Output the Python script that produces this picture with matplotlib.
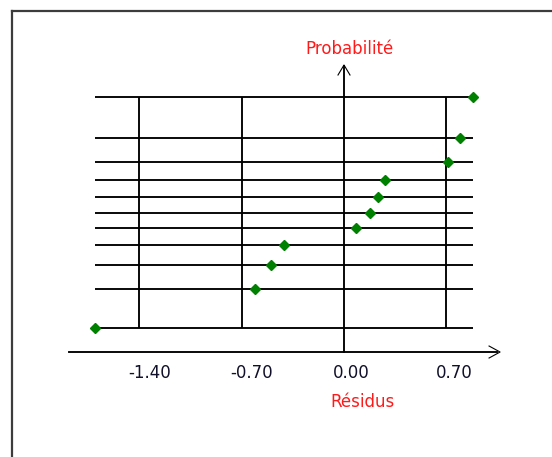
import matplotlib
matplotlib.use("Agg")
import matplotlib.pyplot as plt
from matplotlib.lines import Line2D

# ---- data ----
residuals = [-1.70, -0.61, -0.50, -0.41, 0.08, 0.18, 0.23, 0.28, 0.71, 0.79, 0.88]
normal_scores = [-1.69, -1.12, -0.76, -0.46, -0.22, 0.00, 0.24, 0.49, 0.76, 1.11, 1.71]
x_ticks = [-1.40, -0.70, 0.00, 0.70]
x_tick_labels = ["-1.40", "-0.70", "0.00", "0.70"]
x_title = "Résidus"
y_title = "Probabilité"

W, H, DPI = 552, 457, 100
fig = plt.figure(figsize=(W / DPI, H / DPI), dpi=DPI)
fig.patch.set_facecolor("white")
ax = fig.add_axes([0, 0, 1, 1])
ax.axis("off")

# pixel <-> data mapping of the original picture
X0, SX = 344.0, 146.4     # x pixel of 0, px per unit
Y0, SY = 213.3, 68.0      # y pixel of score 0, px per unit
ax.set_xlim((0 - X0) / SX, (W - X0) / SX)
ax.set_ylim((Y0 - H) / SY, (Y0 - 0) / SY)

def px(v):  # pixel lengths -> data units (x)
    return v / SX

def py(v):  # pixel lengths -> data units (y)
    return v / SY

lw = 1.35
ymin, ymax = min(normal_scores), max(normal_scores)
xmin, xmax = min(residuals), max(residuals)

# horizontal lines at every probability level
for s in normal_scores:
    ax.plot([xmin, xmax], [s, s], color="black", lw=lw, zorder=2, solid_capstyle="butt")

# vertical grid lines at ticks (except 0 which is the axis)
for t in x_ticks:
    if t != 0:
        ax.plot([t, t], [ymin, ymax], color="black", lw=lw, zorder=2, solid_capstyle="butt")

# axes
x_axis_y = -2.04
y_axis_top = 2.166
ax.plot([-1.878, 1.045], [x_axis_y, x_axis_y], color="black", lw=lw, zorder=2)
ax.plot([0, 0], [x_axis_y, y_axis_top], color="black", lw=lw, zorder=2)
# arrow heads
ax.plot([-px(6), 0, px(6)], [y_axis_top - py(9), y_axis_top + py(1), y_axis_top - py(9)],
        color="black", lw=0.8, zorder=2)
ax.plot([1.066 - px(11), 1.066, 1.066 - px(11)],
        [x_axis_y + py(6), x_axis_y, x_axis_y - py(6)], color="black", lw=0.8, zorder=2)

# points
ax.plot(residuals, normal_scores, linestyle="none", marker="D", markersize=5.5,
        color="#008000", markeredgecolor="#008000", zorder=3)

# tick labels
for t, lab in zip(x_ticks, x_tick_labels):
    ax.text(t - px(11), x_axis_y - py(21), lab, ha="left", va="center",
            fontsize=12, color="#10102a", zorder=4)

ax.text(px(19), x_axis_y - py(50), x_title, ha="center", va="center",
        fontsize=12, color="#ff1a1a")
ax.text(px(6), y_axis_top + py(17), y_title, ha="center", va="center",
        fontsize=12, color="#ff1a1a")

# frame (only top and left visible in the reference)
fig.add_artist(Line2D([11.5 / W, 11.5 / W], [0, 1 - 10.5 / H], transform=fig.transFigure,
                      color="#3c3c3c", lw=1.6))
fig.add_artist(Line2D([11.5 / W, 1.0], [1 - 10.5 / H, 1 - 10.5 / H], transform=fig.transFigure,
                      color="#3c3c3c", lw=1.6))

fig.savefig("out.png", dpi=DPI, facecolor="white")
